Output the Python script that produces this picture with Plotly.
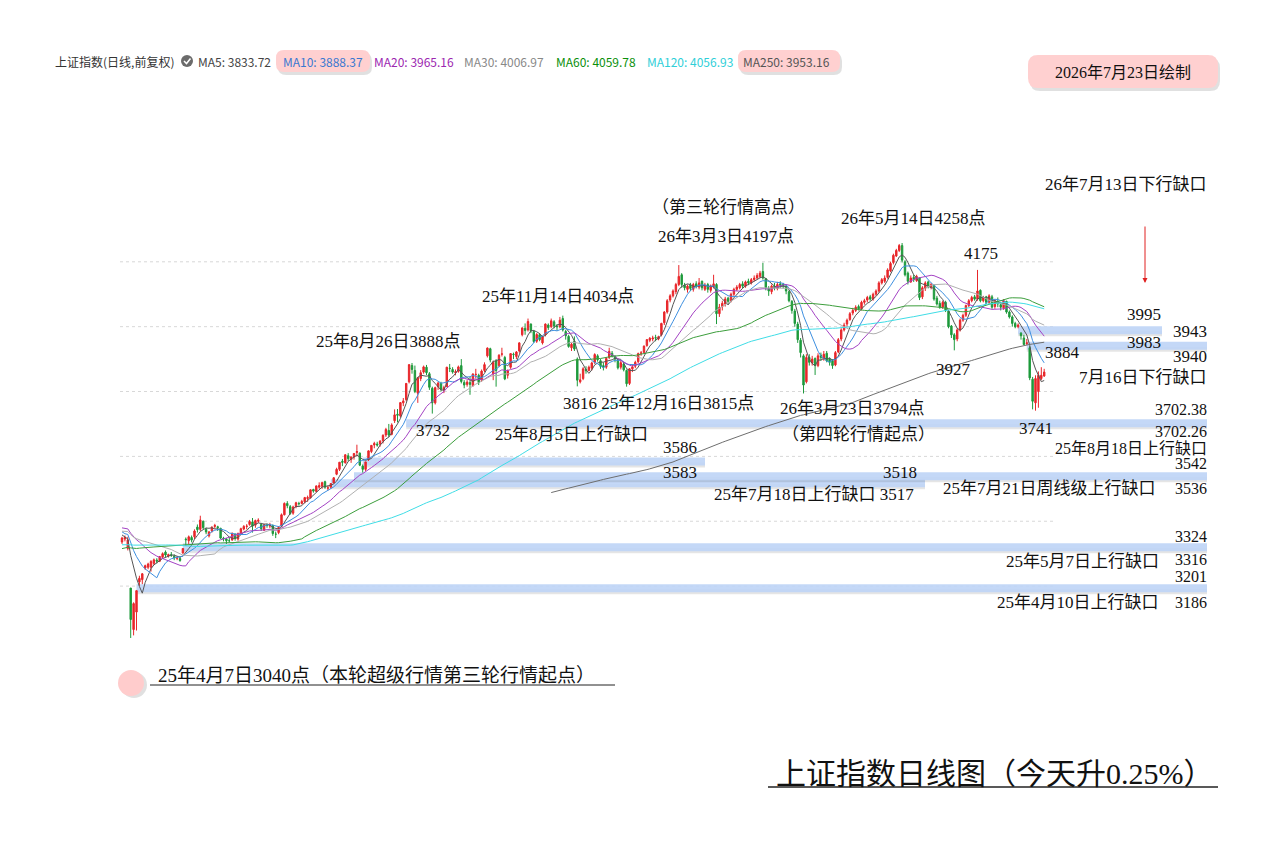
import plotly.graph_objects as go
import pandas as pd

W, H = 1273, 844

# ---------------- data ----------------
months = ["2025-04", "2025-05", "2025-06", "2025-07", "2025-08", "2025-09", "2025-10", "2025-11",
          "2025-12", "2026-01", "2026-02", "2026-03", "2026-04", "2026-05", "2026-06", "2026-07"]
days_in_month = [21, 19, 20, 23, 21, 22, 17, 20, 23, 20, 14, 22, 21, 18, 21, 17]
trade_days = [f"{m}#{k + 1:02d}" for m, n in zip(months, days_in_month) for k in range(n)]

# closes before the window (Oct 2024 - Mar 2025), used only for moving averages
pre_close = [
    3489, 3258, 3302, 3217, 3284, 3202, 3202, 3169, 3262, 3268, 3286, 3280, 3300, 3280, 3300, 3322, 3266, 3279,
    3272, 3310, 3387, 3471, 3452, 3470, 3421, 3439, 3324, 3330, 3346, 3323, 3368, 3370, 3267, 3263, 3259, 3310, 3295, 3326, 3380,
    3364, 3379, 3368, 3404, 3402, 3402, 3422, 3432, 3462, 3401, 3391, 3386, 3362, 3370, 3352, 3394, 3394, 3394, 3400, 3407, 3351,
    3262, 3211, 3230, 3206, 3230, 3211, 3168, 3160, 3227, 3240, 3236, 3241, 3242, 3244, 3243, 3231, 3252, 3250, 3251,
    3229, 3270, 3303, 3318, 3322, 3283, 3346, 3332, 3319, 3324, 3351, 3380, 3379, 3346, 3374, 3388, 3320, 3355, 3321,
    3316, 3348, 3342, 3381, 3373, 3366, 3379, 3359, 3358, 3419, 3426, 3430, 3426, 3408, 3365, 3370, 3369, 3373, 3380, 3374, 3351, 3336,
]

open_ = [
    3336, 3345, 3316, 3194, 3066, 3120, 3213, 3220, 3256, 3258, 3258, 3270, 3280, 3277, 3290, 3305, 3293, 3297, 3292, 3286, 3285,
    3302, 3345, 3340, 3350, 3352, 3382, 3375, 3400, 3375, 3355, 3370, 3384, 3383, 3378, 3348, 3345, 3340, 3342, 3360,
    3345, 3362, 3376, 3384, 3390, 3398, 3388, 3400, 3390, 3372, 3388, 3385, 3387, 3360, 3365, 3385, 3420, 3455, 3445, 3425,
    3445, 3455, 3455, 3460, 3470, 3472, 3498, 3492, 3505, 3508, 3522, 3502, 3505, 3518, 3545, 3560, 3585, 3580, 3602, 3590, 3598, 3612, 3610,
    3570, 3560, 3590, 3615, 3635, 3638, 3638, 3648, 3666, 3680, 3668, 3710, 3730, 3725, 3765, 3775, 3830, 3880, 3865, 3795, 3840,
    3860, 3875, 3855, 3810, 3765, 3815, 3825, 3805, 3815, 3872, 3868, 3858, 3862, 3880, 3828, 3822, 3828, 3818, 3852, 3850, 3835, 3865,
    3910, 3932, 3855, 3895, 3880, 3915, 3905, 3850, 3875, 3915, 3908, 3925, 3975, 3995, 3990, 4008, 3985,
    3955, 3975, 3950, 3975, 4005, 4000, 4015, 4000, 4000, 4025, 3985, 3970, 3935, 3955, 3900, 3830, 3840, 3868, 3865, 3872,
    3890, 3910, 3895, 3880, 3875, 3905, 3918, 3908, 3898, 3875, 3885, 3865, 3825, 3870, 3878, 3892, 3918, 3920, 3942, 3958, 3962, 3966, 3962,
    3975, 4012, 4045, 4082, 4095, 4108, 4130, 4160, 4128, 4115, 4128, 4115, 4132, 4122, 4140, 4115, 4130, 4112, 4122, 4130,
    4040, 4062, 4070, 4088, 4080, 4100, 4115, 4120, 4132, 4125, 4140, 4135, 4145, 4150,
    4155, 4170, 4148, 4118, 4108, 4125, 4118, 4132, 4130, 4125, 4108, 4078, 4048, 4008, 3958, 3910, 3830, 3905, 3888, 3902, 3880, 3912,
    3900, 3918, 3900, 3895, 3882, 3922, 3962, 3990, 4008, 4022, 4042, 4050, 4062, 4055, 4075, 4082, 4092, 4085, 4100, 4110, 4135,
    4140, 4152, 4172, 4198, 4218, 4235, 4250, 4200, 4165, 4138, 4152, 4142, 4150, 4092, 4118, 4138, 4122, 4128,
    4088, 4072, 4060, 4075, 4048, 4002, 3975, 3962, 3990, 4020, 4035, 4065, 4080, 4092, 4085, 4112, 4080, 4092, 4075, 4092, 4062,
    4078, 4068, 4058, 4078, 4045, 4030, 4010, 4000, 3980, 3965, 3948, 3935, 3838, 3765, 3800, 3840, 3848,
]
high = [
    3352, 3356, 3352, 3194, 3150, 3186, 3232, 3240, 3266, 3272, 3280, 3285, 3286, 3293, 3304, 3310, 3300, 3305, 3298, 3292, 3292,
    3316, 3350, 3356, 3356, 3375, 3390, 3417, 3402, 3380, 3370, 3385, 3392, 3386, 3380, 3352, 3348, 3350, 3365, 3362,
    3365, 3380, 3388, 3391, 3404, 3410, 3405, 3409, 3395, 3392, 3392, 3395, 3390, 3368, 3385, 3424, 3458, 3462, 3450, 3448,
    3460, 3460, 3466, 3475, 3479, 3498, 3500, 3510, 3520, 3522, 3525, 3510, 3517, 3536, 3565, 3582, 3592, 3606, 3610, 3600, 3610, 3636, 3612,
    3575, 3583, 3618, 3635, 3645, 3645, 3650, 3668, 3688, 3700, 3702, 3745, 3746, 3766, 3780, 3826, 3883, 3888, 3880, 3845, 3866,
    3880, 3882, 3860, 3815, 3815, 3830, 3830, 3818, 3876, 3885, 3875, 3868, 3880, 3900, 3835, 3835, 3845, 3856, 3870, 3855, 3868, 3890,
    3936, 3935, 3895, 3900, 3915, 3935, 3910, 3868, 3918, 3920, 3925, 3952, 3998, 4010, 4025, 4010, 3990,
    3980, 3980, 3972, 4010, 4010, 4025, 4020, 4008, 4030, 4034, 3990, 3975, 3950, 3970, 3905, 3855, 3875, 3878, 3880, 3892,
    3918, 3915, 3900, 3890, 3906, 3935, 3925, 3912, 3900, 3895, 3890, 3868, 3872, 3882, 3895, 3920, 3925, 3942, 3962, 3968, 3972, 3975, 3972,
    4012, 4048, 4085, 4100, 4115, 4135, 4190, 4165, 4135, 4130, 4135, 4135, 4140, 4150, 4142, 4135, 4135, 4130, 4160, 4134,
    4070, 4080, 4092, 4092, 4105, 4120, 4128, 4135, 4140, 4142, 4148, 4150, 4158, 4165,
    4172, 4197, 4150, 4125, 4130, 4135, 4138, 4140, 4135, 4130, 4112, 4082, 4055, 4015, 3965, 3915, 3915, 3915, 3910, 3905, 3918, 3920,
    3925, 3925, 3905, 3900, 3925, 3965, 3995, 4012, 4025, 4045, 4058, 4066, 4068, 4080, 4086, 4095, 4098, 4105, 4115, 4140, 4150,
    4158, 4180, 4200, 4225, 4240, 4255, 4258, 4205, 4170, 4158, 4160, 4160, 4152, 4125, 4140, 4142, 4135, 4130,
    4095, 4080, 4080, 4080, 4050, 4005, 3980, 3995, 4025, 4040, 4068, 4085, 4095, 4098, 4175, 4115, 4095, 4095, 4100, 4098, 4085,
    4090, 4075, 4085, 4080, 4050, 4035, 4015, 4010, 3983, 3975, 3962, 3940, 3845, 3850, 3862, 3875, 3870,
]
low = [
    3330, 3338, 3310, 3040, 3048, 3063, 3201, 3206, 3250, 3252, 3245, 3265, 3270, 3274, 3286, 3290, 3288, 3290, 3280, 3280, 3275,
    3300, 3324, 3330, 3335, 3345, 3365, 3370, 3375, 3360, 3350, 3365, 3378, 3370, 3345, 3338, 3330, 3335, 3340, 3340,
    3340, 3358, 3372, 3375, 3386, 3365, 3380, 3395, 3370, 3370, 3380, 3378, 3355, 3348, 3360, 3383, 3418, 3440, 3420, 3420,
    3440, 3448, 3452, 3455, 3460, 3470, 3488, 3490, 3500, 3500, 3500, 3495, 3500, 3518, 3542, 3555, 3570, 3578, 3585, 3580, 3590, 3600, 3570,
    3550, 3555, 3586, 3610, 3625, 3630, 3630, 3640, 3660, 3660, 3665, 3703, 3705, 3720, 3755, 3770, 3825, 3855, 3795, 3765, 3832,
    3855, 3850, 3805, 3732, 3760, 3805, 3800, 3795, 3815, 3860, 3855, 3850, 3858, 3825, 3810, 3815, 3790, 3815, 3840, 3820, 3830, 3860,
    3905, 3890, 3835, 3815, 3875, 3908, 3835, 3840, 3870, 3900, 3900, 3920, 3970, 3975, 3985, 3980, 3950,
    3950, 3955, 3945, 3970, 3990, 3995, 3995, 3988, 3995, 3985, 3960, 3935, 3925, 3925, 3816, 3825, 3835, 3855, 3862, 3865,
    3885, 3892, 3870, 3865, 3870, 3900, 3905, 3890, 3868, 3868, 3862, 3815, 3820, 3860, 3872, 3888, 3910, 3918, 3938, 3952, 3955, 3955, 3958,
    3970, 4005, 4040, 4075, 4090, 4100, 4125, 4120, 4112, 4105, 4110, 4108, 4118, 4115, 4112, 4110, 4105, 4105, 4118, 4008,
    4030, 4050, 4062, 4070, 4075, 4095, 4110, 4115, 4118, 4120, 4128, 4130, 4140, 4145,
    4150, 4145, 4112, 4095, 4100, 4112, 4112, 4120, 4118, 4100, 4075, 4040, 4000, 3950, 3905, 3794, 3825, 3880, 3880, 3851, 3875, 3895,
    3895, 3890, 3880, 3870, 3878, 3918, 3955, 3985, 4000, 4018, 4035, 4045, 4050, 4050, 4068, 4075, 4080, 4080, 4095, 4105, 4130,
    4135, 4148, 4168, 4192, 4215, 4230, 4198, 4155, 4130, 4135, 4138, 4138, 4082, 4085, 4110, 4118, 4115, 4080,
    4065, 4055, 4055, 4045, 3995, 3965, 3927, 3955, 3985, 4015, 4030, 4060, 4075, 4080, 4080, 4075, 4075, 4070, 4070, 4055, 4055,
    4060, 4050, 4052, 4040, 4025, 4000, 3995, 3995, 3960, 3943, 3943, 3835, 3745, 3741, 3750, 3835, 3845,
]
close = [
    3348, 3350, 3342, 3097, 3146, 3186, 3224, 3238, 3263, 3268, 3276, 3281, 3277, 3291, 3300, 3296, 3297, 3295, 3288, 3287, 3279,
    3316, 3343, 3352, 3342, 3370, 3374, 3404, 3380, 3367, 3367, 3381, 3387, 3380, 3348, 3346, 3340, 3340, 3363, 3347,
    3362, 3377, 3384, 3385, 3399, 3385, 3402, 3403, 3377, 3389, 3387, 3388, 3362, 3360, 3381, 3420, 3455, 3448, 3424, 3444,
    3457, 3454, 3461, 3473, 3473, 3497, 3493, 3509, 3510, 3519, 3505, 3503, 3516, 3534, 3560, 3582, 3582, 3605, 3593, 3598, 3609, 3615, 3573,
    3560, 3583, 3617, 3634, 3640, 3635, 3647, 3665, 3683, 3666, 3697, 3728, 3727, 3766, 3771, 3825, 3883, 3868, 3800, 3843, 3858,
    3876, 3858, 3813, 3765, 3812, 3826, 3807, 3812, 3875, 3871, 3860, 3861, 3876, 3831, 3820, 3829, 3822, 3854, 3853, 3828, 3863, 3883,
    3934, 3897, 3890, 3865, 3912, 3916, 3839, 3864, 3917, 3914, 3922, 3950, 3996, 3988, 4016, 3987, 3954,
    3976, 3960, 3969, 4008, 3997, 4018, 4002, 4000, 4020, 3990, 3972, 3939, 3946, 3931, 3835, 3836, 3870, 3864, 3875, 3888,
    3914, 3898, 3878, 3875, 3902, 3924, 3910, 3900, 3873, 3889, 3867, 3824, 3870, 3876, 3890, 3917, 3919, 3940, 3960, 3964, 3965, 3965, 3969,
    4010, 4045, 4080, 4095, 4110, 4130, 4155, 4130, 4120, 4125, 4118, 4130, 4125, 4135, 4120, 4128, 4115, 4125, 4132, 4040,
    4060, 4072, 4085, 4078, 4100, 4115, 4122, 4130, 4125, 4138, 4135, 4145, 4150, 4158,
    4165, 4150, 4120, 4110, 4125, 4120, 4130, 4128, 4125, 4110, 4080, 4050, 4010, 3960, 3920, 3820, 3905, 3890, 3900, 3880, 3910, 3905,
    3915, 3895, 3890, 3880, 3920, 3960, 3990, 4005, 4020, 4040, 4050, 4060, 4055, 4075, 4080, 4090, 4085, 4100, 4110, 4135, 4145,
    4150, 4175, 4195, 4220, 4235, 4250, 4205, 4160, 4140, 4150, 4145, 4155, 4090, 4120, 4135, 4125, 4130, 4085,
    4070, 4060, 4075, 4050, 4000, 3975, 3960, 3990, 4020, 4035, 4065, 4080, 4090, 4085, 4110, 4080, 4090, 4075, 4095, 4060, 4080,
    4070, 4060, 4080, 4045, 4030, 4010, 4000, 4005, 3972, 3945, 3950, 3842, 3770, 3840, 3850, 3850, 3860,
]

ma_periods = [5, 10, 20, 30, 60, 120, 250]
ma_colors = ["#555555", "#3d8fe0", "#a443c4", "#b0b0b0", "#3c9e3c", "#3fdde6", "#6e6e6e"]
legend_values = ["3833.72", "3888.37", "3965.16", "4006.97", "4059.78", "4056.93", "3953.16"]

# price gaps: (first trading day of the band, low, high)
gap_start = [5, 21, 72, 80, 83, 98, 312, 309]
gap_low = [3186, 3316, 3517, 3536, 3583, 3702.26, 3940, 3983]
gap_high = [3201, 3324, 3518, 3542, 3586, 3702.38, 3943, 3995]
gap_end_px = [1207, 1207, 925, 1207, 705, 1207, 1207, 1162]

grid_levels = [4200, 4000, 3800, 3600, 3400, 3200]

# ---------------- geometry helpers ----------------
X0PX, DXPX = 122.0, 2.9            # pixel of first candle, pixels per trading day
PTOP, PPX = 5007.3, 3.0836          # price at top edge, price per pixel


def xd(px):
    return (px - X0PX) / DXPX


def yd(py):
    return PTOP - PPX * py


def P(px, py):
    return f"{px / W:.5f},{1 - py / H:.5f}"


def rrect(x0, y0, x1, y1, r):
    return (f"M {P(x0 + r, y0)} L {P(x1 - r, y0)} Q {P(x1, y0)} {P(x1, y0 + r)} "
            f"L {P(x1, y1 - r)} Q {P(x1, y1)} {P(x1 - r, y1)} L {P(x0 + r, y1)} "
            f"Q {P(x0, y1)} {P(x0, y1 - r)} L {P(x0, y0 + r)} Q {P(x0, y0)} {P(x0 + r, y0)} Z")


N = len(close)
idx = list(range(N))

fig = go.Figure()

fig.add_trace(go.Candlestick(
    x=idx, open=open_[:N], high=high[:N], low=low[:N], close=close,
    increasing=dict(line=dict(color="#e8262a", width=1), fillcolor="#e8262a"),
    decreasing=dict(line=dict(color="#1e9a3c", width=1), fillcolor="#1e9a3c"),
    whiskerwidth=0, hoverinfo="skip", name="上证指数"))

full = pd.Series(pre_close + close, dtype=float)
npre = len(pre_close)
for n, col in zip(ma_periods, ma_colors):
    ma = full.rolling(n).mean().iloc[npre:].tolist()
    xs = idx
    if n == 250:
        start = 148
        xs = idx[start:]
        ma = ma[start:]
    fig.add_trace(go.Scatter(x=xs, y=ma, mode="lines", line=dict(color=col, width=1),
                             hoverinfo="skip", name=f"MA{n}"))

shapes = []
# dotted grid
for lv in grid_levels:
    shapes.append(dict(type="line", xref="x", yref="y", x0=xd(120), x1=xd(1055), y0=lv, y1=lv,
                       line=dict(color="#d8d8d8", width=1, dash="dot"), layer="below"))
# gap bands
for s, lo, hi, e in zip(gap_start, gap_low, gap_high, gap_end_px):
    mid = (lo + hi) / 2
    shapes.append(dict(type="line", xref="x", yref="y", x0=s, x1=xd(e), y0=mid - 3.5 * PPX, y1=mid - 3.5 * PPX,
                       line=dict(color="rgba(0,0,0,0.10)", width=5), layer="below"))
    shapes.append(dict(type="line", xref="x", yref="y", x0=s, x1=xd(e), y0=mid, y1=mid,
                       line=dict(color="rgba(190,212,246,0.9)", width=8), layer="below"))

# pink boxes with shadows
for (x0, y0, x1, y1, r) in [(276, 50, 370, 72, 8), (738, 50, 840, 72, 8), (1028, 55, 1218, 88, 10)]:
    shapes.append(dict(type="path", xref="paper", yref="paper", path=rrect(x0 + 2, y0 + 3, x1 + 2, y1 + 3, r),
                       fillcolor="rgba(0,0,0,0.12)", line=dict(width=0), layer="below"))
    shapes.append(dict(type="path", xref="paper", yref="paper", path=rrect(x0, y0, x1, y1, r),
                       fillcolor="#ffd0d0", line=dict(width=0), layer="below"))
# legend icon
shapes.append(dict(type="circle", xref="paper", yref="paper", x0=181 / W, x1=193 / W, y0=1 - 67 / H, y1=1 - 55 / H,
                   fillcolor="#6b6b6b", line=dict(width=0)))
shapes.append(dict(type="path", xref="paper", yref="paper",
                   path=f"M {P(184, 61)} L {P(186.5, 63.5)} L {P(190.5, 58.5)}", line=dict(color="white", width=1.5)))
# pink circle bottom-left
shapes.append(dict(type="circle", xref="paper", yref="paper", x0=121 / W, x1=147 / W, y0=1 - 698 / H, y1=1 - 672 / H,
                   fillcolor="rgba(0,0,0,0.12)", line=dict(width=0)))
shapes.append(dict(type="circle", xref="paper", yref="paper", x0=118 / W, x1=144 / W, y0=1 - 696 / H, y1=1 - 670 / H,
                   fillcolor="#ffcccc", line=dict(width=0)))
# underlines
shapes.append(dict(type="line", xref="paper", yref="paper", x0=150 / W, x1=615 / W, y0=1 - 685 / H, y1=1 - 685 / H,
                   line=dict(color="#222", width=1)))
shapes.append(dict(type="line", xref="paper", yref="paper", x0=768 / W, x1=1218 / W, y0=1 - 787 / H, y1=1 - 787 / H,
                   line=dict(color="#222", width=1.5)))

SERIF = "Liberation Serif, Noto Sans CJK SC, serif"
SANS = "Noto Sans CJK SC, Noto Sans, sans-serif"
ann = []


def txt(t, px, py, anchor="center", size=17, color="#111", family=SERIF):
    ann.append(dict(text=t, x=px / W, y=1 - py / H, xref="paper", yref="paper", showarrow=False,
                    xanchor=anchor, yanchor="middle", borderpad=0,
                    font=dict(family=family, size=size, color=color)))


# legend line
txt("上证指数(日线,前复权)", 54, 61, "left", 12, "#333", SANS)
leg_x = [197, 282, 373, 463, 555, 646, 742]
leg_c = ["#444444", "#3a78d0", "#9c27b0", "#888888", "#0a8f0a", "#2fcfd8", "#555555"]
for n, v, x, c in zip(ma_periods, legend_values, leg_x, leg_c):
    txt(f"MA{n}: {v}", x, 61, "left", 12, c, SANS)

txt("2026年7月23日绘制", 1123, 72, "center", 16)

labels = [
    ("（第三轮行情高点）", 728, 207, "center", 17),
    ("26年3月3日4197点", 726, 236, "center", 17),
    ("26年5月14日4258点", 913, 218, "center", 17),
    ("4175", 981, 253, "center", 17),
    ("25年11月14日4034点", 558, 296, "center", 17),
    ("25年8月26日3888点", 388, 341, "center", 17),
    ("3816 25年12月16日3815点", 658, 404, "center", 17),
    ("26年3月23日3794点", 852, 409, "center", 17),
    ("（第四轮行情起点）", 858, 435, "center", 17),
    ("3732", 433, 430, "center", 17),
    ("25年8月5日上行缺口", 571, 435, "center", 17),
    ("3586", 680, 447, "center", 17),
    ("3583", 680, 472, "center", 17),
    ("3518", 900, 472, "center", 17),
    ("25年7月18日上行缺口 3517", 814, 494, "center", 17),
    ("25年7月21日周线级上行缺口", 1049, 488, "center", 17),
    ("3542", 1208, 463, "right", 16),
    ("3536", 1208, 488, "right", 16),
    ("25年8月18日上行缺口", 1208, 448, "right", 16),
    ("3702.38", 1208, 410, "right", 16),
    ("3702.26", 1208, 432, "right", 16),
    ("3741", 1036, 428, "center", 17),
    ("3927", 953, 370, "center", 17),
    ("3884", 1062, 352, "center", 17),
    ("3995", 1162, 315, "right", 17),
    ("3983", 1162, 342, "right", 17),
    ("3943", 1208, 331, "right", 17),
    ("3940", 1208, 356, "right", 17),
    ("7月16日下行缺口", 1208, 377, "right", 17),
    ("26年7月13日下行缺口", 1208, 184, "right", 17),
    ("3324", 1208, 536, "right", 16),
    ("25年5月7日上行缺口", 1160, 561, "right", 17),
    ("3316", 1208, 559, "right", 16),
    ("3201", 1208, 576, "right", 16),
    ("25年4月10日上行缺口", 1160, 602, "right", 17),
    ("3186", 1208, 602, "right", 16),
]
for t, x, y, a, s in labels:
    txt(t, x, y, a, s)

txt("25年4月7日3040点（本轮超级行情第三轮行情起点）", 157, 675, "left", 19)
txt("上证指数日线图（今天升0.25%）", 995, 773, "center", 30)

# red arrow
ann.append(dict(x=1145 / W, y=1 - 283 / H, xref="paper", yref="paper", ax=0, ay=-58, showarrow=True,
                arrowcolor="#e02020", arrowwidth=1, arrowhead=2, arrowsize=1, text=""))

fig.update_layout(
    width=W, height=H, autosize=False,
    margin=dict(l=0, r=0, t=0, b=0),
    paper_bgcolor="white", plot_bgcolor="white",
    showlegend=False,
    xaxis=dict(range=[xd(0), xd(W)], visible=False, rangeslider=dict(visible=False), fixedrange=True),
    yaxis=dict(range=[yd(H), yd(0)], visible=False, fixedrange=True),
    shapes=shapes, annotations=ann,
)

fig.write_html("out.html", include_plotlyjs=True, config={"displayModeBar": False})
